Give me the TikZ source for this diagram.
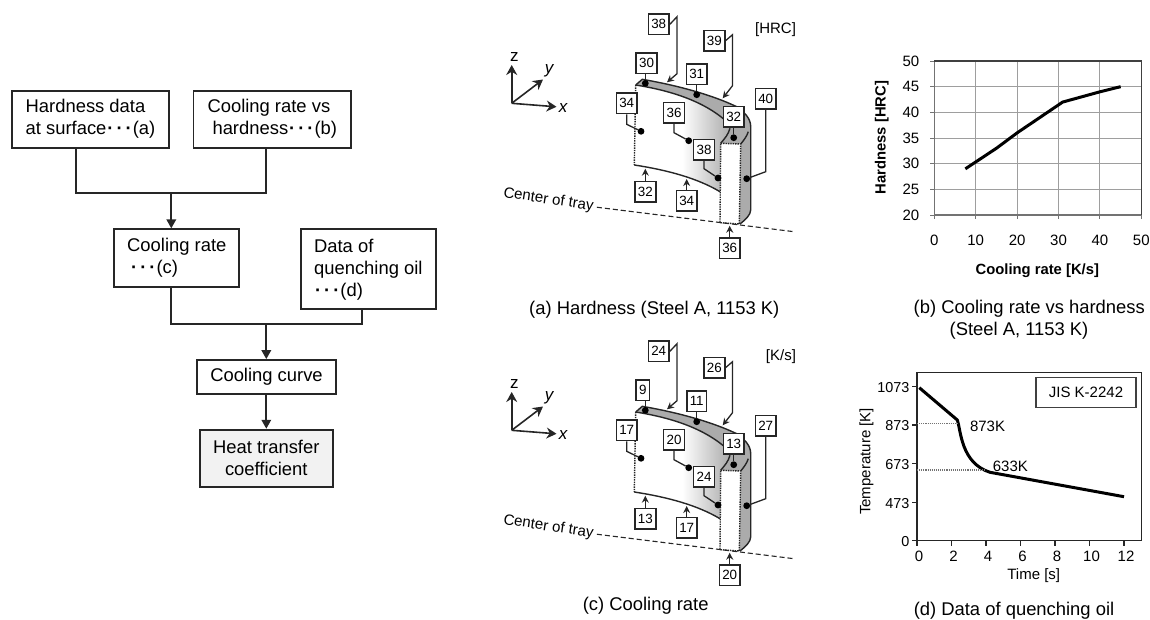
\documentclass[tikz,border=0pt]{standalone}
\usepackage{fontspec}
\setmainfont{Liberation Sans}
\usetikzlibrary{arrows.meta, positioning, calc}
\newcommand{\tridots}{\textbf{\kern1pt·\kern3pt·\kern3pt·\kern1pt}}
\tikzset{
	flowbox/.style={draw=black!85, line width=1.9pt, inner sep=0pt, align=left, font=\fontsize{18.4}{22}\selectfont},
	flowline/.style={draw=black!85, line width=1.9pt},
	flowarrow/.style={flowline, -{Triangle[length=9pt,width=9.5pt]}},
	tag/.style={draw=black!85, fill=white, line width=1.5pt, inner xsep=3pt, inner ysep=0pt, minimum height=20.5pt, font=\fontsize{13.4}{14}\selectfont},
	tagline/.style={draw=black!85, line width=1.3pt},
	tagarrow/.style={tagline, -{Stealth[length=7pt,width=7pt]}},
	spot/.style={circle, fill=black, inner sep=0pt, minimum size=6.8pt},
	axisarrow/.style={draw=black!85, line width=1.6pt, -{Stealth[length=10pt,width=11pt]}},
	caption/.style={font=\fontsize{18.4}{21}\selectfont},
	chartlabel/.style={font=\fontsize{15}{17}\selectfont},
	gridline/.style={draw=black!38, line width=1pt},
	curveline/.style={draw=black, line width=3pt},
}
\begin{document}
\begin{tikzpicture}[x=1pt,y=-1pt]
	\useasboundingbox (0,0) rectangle (1150,619);
	% flow chart
	\node [flowbox, minimum width=157.6pt, minimum height=57pt] (hard) at (90.5,119.2) {Hardness data\\at surface\tridots(a)};
	\node [flowbox, minimum width=157.6pt, minimum height=57pt] (curvedata) at (272.3,119.2) {Cooling rate vs\\\hspace*{5pt}hardness\tridots(b)};
	\node [flowbox, minimum width=125pt, minimum height=57.4pt] (rate) at (176.8,258) {Cooling rate\\\hspace*{3pt}\tridots(c)};
	\node [flowbox, minimum width=134.7pt, minimum height=80pt] (oil) at (368.3,269.3) {Data of\\quenching oil\\\tridots(d)};
	\node [flowbox, minimum width=139pt, minimum height=34.3pt] (cool) at (266.5,377.2) {Cooling curve};
	\node [flowbox, fill=black!5, align=center, minimum width=132.7pt, minimum height=57pt] (htc) at (266.3,458.2) {Heat transfer\\coefficient};
	\coordinate (ja) at (76.3,193.3);
	\coordinate (jb) at (266.3,193.3);
	\coordinate (jm) at (171.3,193.3);
	\coordinate (jc) at (171.3,324);
	\coordinate (jd) at (361.7,324);
	\coordinate (jn) at (266.3,324);
	\draw [flowline] (hard.south -| ja) -- (ja) -- (jb) -- (curvedata.south -| jb);
	\draw [flowarrow] (jm) -- (rate.north -| jm);
	\draw [flowline] (rate.south -| jc) -- (jc) -- (jd) -- (oil.south -| jd);
	\draw [flowarrow] (jn) -- (cool.north -| jn);
	\draw [flowarrow] (cool.south -| jn) -- (htc.north -| jn);
	% parts (a) and (c)
	\foreach \dy/\unit/\ta/\tb/\tc/\td/\te/\tf/\tg/\th/\ti/\tj/\tk/\tl in
		{0/{[HRC]}/38/39/30/31/34/36/32/38/40/32/34/36,
		327/{[K/s]}/24/26/9/11/17/20/13/24/27/13/17/20}{
	\begin{scope}[shift={(0,\dy)}]
		% axes
		\coordinate (o) at (511.7,103.3);
		\coordinate (zend) at (511.7,65);
		\coordinate (yend) at (543,79.5);
		\coordinate (xend) at (556.5,106.8);
		\draw [axisarrow] (o) -- (zend);
		\draw [axisarrow] (o) -- (yend);
		\draw [axisarrow] (o) -- (xend);
		\node [chartlabel, font=\fontsize{17}{18}\selectfont] (zlab) at (514.3,57) {z};
		\node [chartlabel, font=\fontsize{17}{18}\itshape\selectfont] (ylab) at (549,70.5) {y};
		\node [chartlabel, font=\fontsize{17}{18}\itshape\selectfont] (xlab) at (563,108.3) {x};
		\node [chartlabel, anchor=east] (unit) at (799.5,30) {\unit};
		% tray section
		\coordinate (fr) at (635.7,85);
		\coordinate (bk) at (642.3,79.3);
		\coordinate (tr) at (736.7,106.7);
		\coordinate (ed) at (750.7,126.7);
		\coordinate (eb) at (750.7,210);
		\coordinate (ec) at (740,224);
		\coordinate (ft) at (728.5,123.3);
		\coordinate (fm) at (730,128.3);
		\coordinate (wtl) at (720.7,143.3);
		\coordinate (wtr) at (740.7,144);
		\coordinate (wbr) at (739.3,224);
		\coordinate (wbl) at (720,222.7);
		\coordinate (fbr) at (720,191.7);
		\coordinate (fbl) at (634.3,165);
		\coordinate (inn) at (748.3,131.7);
		\fill [black!33] (fr) -- (bk) .. controls (675,85) and (710,94) .. (tr) .. controls (744,112) and (750.7,118) .. (ed) -- (eb) .. controls (750.7,215) and (745,220) .. (ec) -- (wbl) -- (wtl) -- cycle;
		\shade [left color=white, right color=black!33, middle color=white] (fr) .. controls (667,90) and (704,100) .. (ft) -- (fm) .. controls (728,135) and (725,138) .. (wtl) -- (fbr) .. controls (697,178) and (667,170) .. (fbl) -- cycle;
		\fill [white] (wtl) -- (wtr) -- (wbr) -- (wbl) -- cycle;
		\draw [line width=1.4pt, black!85] (fr) -- (bk) .. controls (675,85) and (710,94) .. (tr) .. controls (744,112) and (750.7,118) .. (ed) -- (eb) .. controls (750.7,215) and (745,220) .. (ec);
		\draw [line width=1.4pt, black!85] (fr) .. controls (667,90) and (704,100) .. (ft) (fm) .. controls (728,135) and (725,138) .. (wtl);
		\draw [line width=1.4pt, black!85] (fbl) .. controls (667,170) and (697,178) .. (fbr);
		\draw [line width=1.4pt, black!85] (wtr) .. controls (744,140) and (747,136) .. (inn);
		\draw [line width=1.4pt, densely dotted, black!85] (fr) -- (fbl);
		\draw [line width=1.4pt, densely dotted, black!85] (wtl) -- (wtr) -- (wbr) -- (wbl) -- cycle;
		% center line
		\node [chartlabel, rotate=-8.5] (tray) at (548.5,200) {Center of tray};
		\coordinate (trayend) at (794,231.7);
		\draw [line width=1.1pt, dash pattern=on 5pt off 3pt, black!85] (tray.east) -- (trayend);
		% tags
		\node [tag] (ta) at (658.7,24.3) {\ta};
		\node [tag] (tb) at (714.3,40.7) {\tb};
		\node [tag, anchor=west] (tc) at (635.3,63.3) {\tc};
		\node [tag] (td) at (696.7,74) {\td};
		\node [tag] (te) at (626.7,103.3) {\te};
		\node [tag] (tf) at (674,112.7) {\tf};
		\node [tag] (tg) at (733.7,116.7) {\tg};
		\node [tag] (th) at (704,149.7) {\th};
		\node [tag] (ti) at (765.7,98.7) {\ti};
		\node [tag] (tj) at (645.3,191.7) {\tj};
		\node [tag] (tk) at (686.7,200.7) {\tk};
		\node [tag] (tl) at (729.7,248) {\tl};
		\node [spot] (sc) at (645.3,83.3) {};
		\node [spot] (sd) at (696.7,94.7) {};
		\node [spot] (se) at (641,131.3) {};
		\node [spot] (sf) at (688.7,140.7) {};
		\node [spot] (sg) at (733.7,137.7) {};
		\node [spot] (sh) at (718,178) {};
		\node [spot] (si) at (746.7,178.7) {};
		\coordinate (aa) at (667,82.3);
		\coordinate (ab) at (722.7,98.3);
		\coordinate (ak) at (686.7,179);
		\coordinate (aj) at (645.3,168.7);
		\coordinate (al) at (729.7,225.7);
		\draw [tagarrow] (ta.east) -- ++(7,-7.5) -- ++(0,57) -- (aa);
		\draw [tagarrow] (tb.east) -- ++(7,-6) -- ++(0,51) -- (ab);
		\draw [tagline] (tc.south -| sc) -- (sc);
		\draw [tagline] (td) -- (sd);
		\draw [tagline] (te.south) -- ++(0,10) -- (se);
		\draw [tagline] (tf.south) -- ++(0,9) -- (sf);
		\draw [tagline] (tg) -- (sg);
		\draw [tagline] (th.south) -- ++(0,8) -- (sh);
		\draw [tagline] (ti.south) -- ++(0,62) -- (si);
		\draw [tagarrow] (tj.north) -- (aj);
		\draw [tagarrow] (tk.north) -- (ak);
		\draw [tagarrow] (tl.north) -- (al);
	\end{scope}
	}
	\node [caption] (capa) at (654.3,310) {(a) Hardness (Steel A, 1153 K)};
	\node [caption] (capc) at (645.7,606) {(c) Cooling rate};
	% chart (b)
	\begin{scope}[shift={(934.3,215)},x=4.14pt,y=5.133pt]
		\foreach \v in {10,20,...,40} \draw [gridline] (\v,0) -- (\v,30);
		\foreach \v in {5,10,...,25} \draw [gridline] (0,\v) -- (50,\v);
		\foreach \v in {0,10,...,50} {
			\draw [black!55, line width=1pt] (\v,0) -- ++(0,-0.8);
			\node [chartlabel] (xb\v) at (\v,-4.85) {\v};
		}
		\foreach \v [evaluate=\v as \lab using int(\v+20)] in {0,5,...,30} {
			\draw [black!55, line width=1pt] (0,\v) -- ++(-1,0);
			\node [chartlabel] (yb\v) at (-5.65,\v) {\lab};
		}
		\draw [black!55, line width=1.1pt] (0,30) -- (0,0) -- (50,0);
		\draw [black!75, line width=1.1pt] (0,30) -- (50,30) -- (50,0);
		\draw [curveline] (7.5,9) -- (15,13) -- (20,16) -- (31,22) -- (40,24) -- (45,25);
	\end{scope}
	\node [chartlabel, font=\fontsize{14.8}{17}\bfseries\selectfont, rotate=90] (ylabb) at (881.7,137.7) {Hardness [HRC]};
	\node [chartlabel, font=\fontsize{14.8}{17}\bfseries\selectfont] (xlabb) at (1037.3,270.7) {Cooling rate [K/s]};
	\node [caption] (capb) at (1029.3,309) {(b) Cooling rate vs hardness};
	\node [caption] (capbb) at (1019,331) {(Steel A, 1153 K)};
	% chart (d)
	\draw [black!85, line width=1.4pt] (917,372.3) rectangle (1141.7,540.7);
	\foreach \t [evaluate=\t as \px using 917+17.25*\t] in {0,2,...,12} {
		\draw [black!85, line width=1.2pt] (\px,540.7) -- ++(0,5);
		\node [chartlabel] (xd\t) at (\px+2,556.5) {\t};
	}
	\foreach \lab/\py in {1073/386.7,873/425,673/463.7,473/502.3,0/540.7} {
		\draw [black!85, line width=1.2pt] (917,\py) -- ++(-5,0);
		\node [chartlabel, font=\fontsize{14.4}{16}\selectfont, anchor=east] (yd\lab) at (913,\py+1) {\lab};
	}
	\coordinate (cstart) at (919.3,387.7);
	\coordinate (cknee) at (957.3,420);
	\coordinate (cbend) at (990,472.3);
	\coordinate (cend) at (1124,496.7);
	\draw [curveline, line join=round] (cstart) -- (cknee) .. controls (961,431) and (961,463) .. (cbend) -- (cend);
	\coordinate (dlaa) at (917,423.7);
	\coordinate (dlab) at (957.3,423.7);
	\coordinate (dlba) at (917,470);
	\coordinate (dlbb) at (986,470);
	\draw [black!55, line width=1.1pt, densely dotted] (dlaa) -- (dlab);
	\draw [black!55, line width=1.1pt, densely dotted] (dlba) -- (dlbb);
	\node [chartlabel, anchor=west] (t873) at (966.5,426) {873K};
	\node [chartlabel, anchor=west] (t633) at (989.3,466) {633K};
	\node [chartlabel, draw=black!75, line width=1.1pt, inner sep=0pt, minimum width=100pt, minimum height=30.3pt] (jis) at (1086,392.5) {JIS K-2242};
	\node [chartlabel, rotate=90] (ylabd) at (866.5,461.5) {Temperature [K]};
	\node [chartlabel] (xlabd) at (1033.7,575.5) {Time [s]};
	\node [caption] (capd) at (1014,610.7) {(d) Data of quenching oil};
\end{tikzpicture}
\end{document}
